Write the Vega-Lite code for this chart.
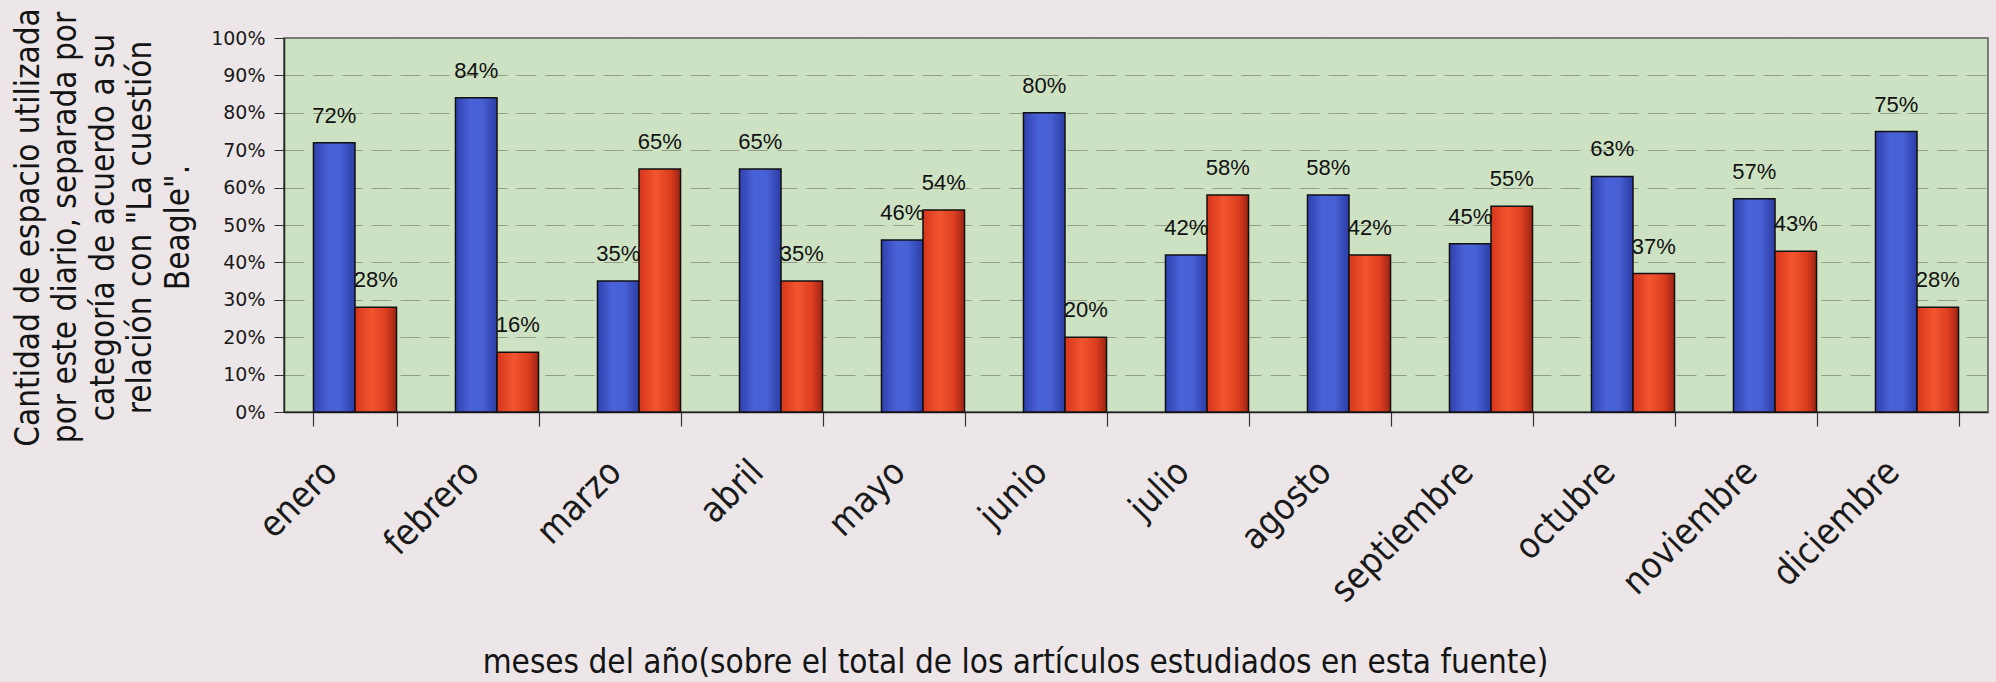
{
  "$schema": "https://vega.github.io/schema/vega-lite/v6.json",
  "width": 1704,
  "height": 374,
  "autosize": {"type": "none"},
  "padding": {"left": 284, "top": 38, "right": 8, "bottom": 270},
  "background": "#ece6e8",
  "config": {
    "view": {"fill": "#cde2c3", "stroke": "#5a5a5a", "strokeWidth": 1.5}
  },
  "data": {
    "values": [
      {"mes": "enero", "serie": "A", "valor": 0.72},
      {"mes": "enero", "serie": "B", "valor": 0.28},
      {"mes": "febrero", "serie": "A", "valor": 0.84},
      {"mes": "febrero", "serie": "B", "valor": 0.16},
      {"mes": "marzo", "serie": "A", "valor": 0.35},
      {"mes": "marzo", "serie": "B", "valor": 0.65},
      {"mes": "abril", "serie": "A", "valor": 0.65},
      {"mes": "abril", "serie": "B", "valor": 0.35},
      {"mes": "mayo", "serie": "A", "valor": 0.46},
      {"mes": "mayo", "serie": "B", "valor": 0.54},
      {"mes": "junio", "serie": "A", "valor": 0.80},
      {"mes": "junio", "serie": "B", "valor": 0.20},
      {"mes": "julio", "serie": "A", "valor": 0.42},
      {"mes": "julio", "serie": "B", "valor": 0.58},
      {"mes": "agosto", "serie": "A", "valor": 0.58},
      {"mes": "agosto", "serie": "B", "valor": 0.42},
      {"mes": "septiembre", "serie": "A", "valor": 0.45},
      {"mes": "septiembre", "serie": "B", "valor": 0.55},
      {"mes": "octubre", "serie": "A", "valor": 0.63},
      {"mes": "octubre", "serie": "B", "valor": 0.37},
      {"mes": "noviembre", "serie": "A", "valor": 0.57},
      {"mes": "noviembre", "serie": "B", "valor": 0.43},
      {"mes": "diciembre", "serie": "A", "valor": 0.75},
      {"mes": "diciembre", "serie": "B", "valor": 0.28}
    ]
  },
  "encoding": {
    "x": {
      "field": "mes",
      "type": "nominal",
      "sort": ["enero", "febrero", "marzo", "abril", "mayo", "junio", "julio", "agosto", "septiembre", "octubre", "noviembre", "diciembre"],
      "scale": {"paddingInner": 0.415, "paddingOuter": 0.2075},
      "axis": {
        "title": "meses del año(sobre el total de los artículos estudiados en esta fuente)",
        "titleFont": "DejaVu Sans Condensed",
        "titleFontSize": 33,
        "titleFontWeight": "normal",
        "titleColor": "#141414",
        "titleX": 731,
        "titleY": 260,
        "titleAlign": "center",
        "titleBaseline": "alphabetic",
        "labelAngle": -45,
        "labelAlign": "right",
        "labelBaseline": "middle",
        "labelFont": "DejaVu Sans Condensed",
        "labelFontSize": 36,
        "labelColor": "#1a1a1a",
        "labelPadding": 40,
        "labelOffset": -24,
        "labelLimit": 500,
        "labelOverlap": false,
        "tickBand": "extent",
        "tickSize": 14,
        "tickColor": "#333333",
        "tickWidth": 1.2,
        "domainColor": "#222222",
        "domainWidth": 1.5,
        "grid": false
      }
    },
    "xOffset": {"field": "serie", "type": "nominal", "scale": {"domain": ["A", "B"], "paddingInner": 0}},
    "y": {
      "field": "valor",
      "type": "quantitative",
      "scale": {"domain": [0, 1]},
      "axis": {
        "values": [0, 0.1, 0.2, 0.3, 0.4, 0.5, 0.6, 0.7, 0.8, 0.9, 1],
        "format": ".0%",
        "labelFont": "DejaVu Sans",
        "labelFontSize": 19,
        "labelColor": "#1a1a1a",
        "labelPadding": 9,
        "tickSize": 10,
        "tickColor": "#333333",
        "domainColor": "#222222",
        "domainWidth": 1.5,
        "grid": true,
        "gridColor": "#747a66",
        "gridOpacity": 0.65,
        "gridDash": [20, 9],
        "gridWidth": 1,
        "title": ["Cantidad de espacio utilizada", "por este diario, separada por", "categoría de acuerdo a su", "relación con \"La cuestión", "Beagle\"."],
        "titleFont": "DejaVu Sans Condensed",
        "titleFontSize": 33,
        "titleFontWeight": "normal",
        "titleColor": "#141414",
        "titleLineHeight": 37.5,
        "titleAngle": -90,
        "titleAlign": "center",
        "titleBaseline": "middle",
        "titleX": -256,
        "titleY": 189
      }
    }
  },
  "layer": [
    {
      "transform": [{"filter": "datum.serie === 'A'"}],
      "mark": {
        "type": "bar",
        "stroke": "#111111",
        "strokeWidth": 1.5,
        "fill": {
          "gradient": "linear", "x1": 0, "y1": 0, "x2": 1, "y2": 0,
          "stops": [
            {"offset": 0, "color": "#2e40ac"},
            {"offset": 0.35, "color": "#4a62d8"},
            {"offset": 0.65, "color": "#4760d4"},
            {"offset": 1, "color": "#2c3da4"}
          ]
        }
      },
      "encoding": {"y": {"field": "valor", "type": "quantitative"}}
    },
    {
      "transform": [{"filter": "datum.serie === 'B'"}],
      "mark": {
        "type": "bar",
        "stroke": "#111111",
        "strokeWidth": 1.5,
        "fill": {
          "gradient": "linear", "x1": 0, "y1": 0, "x2": 1, "y2": 0,
          "stops": [
            {"offset": 0, "color": "#d6361c"},
            {"offset": 0.4, "color": "#f2552f"},
            {"offset": 0.75, "color": "#dc3e1f"},
            {"offset": 1, "color": "#9c2414"}
          ]
        }
      },
      "encoding": {"y": {"field": "valor", "type": "quantitative"}}
    },
    {
      "mark": {
        "type": "text",
        "font": "Liberation Sans",
        "fontSize": 22,
        "color": "#111111",
        "baseline": "alphabetic",
        "align": "center",
        "dy": -20
      },
      "encoding": {"text": {"field": "valor", "type": "quantitative", "format": ".0%"}}
    }
  ]
}
